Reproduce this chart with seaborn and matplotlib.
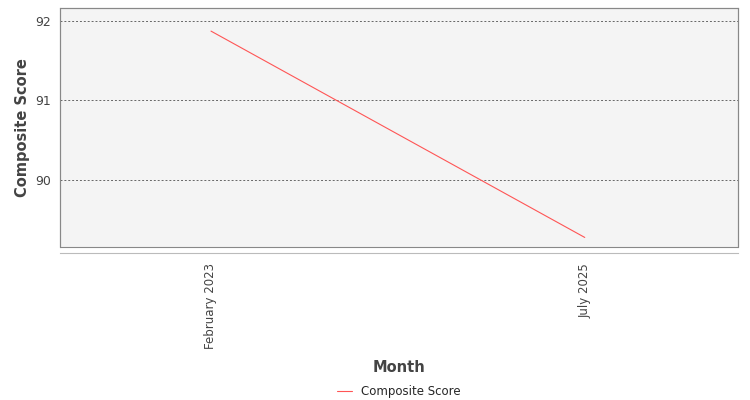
import matplotlib
matplotlib.use("Agg")
import matplotlib.pyplot as plt
import seaborn as sns
import pandas as pd

months = ["February 2023", "July 2025"]
scores = [91.87, 89.28]
series_name = "Composite Score"

sns.set_style("white")
plt.rcParams['font.family'] = ['DejaVu Sans']

fig = plt.figure(figsize=(7.5, 4), dpi=100)
ax = fig.add_axes([0.08, 0.3825, 0.904, 0.5975])
ax.set_facecolor("#f4f4f4")
ax.patch.set_edgecolor("#888888")
ax.patch.set_linewidth(0.8)
x = list(range(len(months)))
sns.lineplot(x=x, y=scores, ax=ax, color="#ff5555", linewidth=0.8, label=series_name)
ax.set_xticks(x, labels=months)
ax.tick_params(axis='x', labelrotation=90, labelsize=8.5, labelcolor="#444444", length=4, color="#999999")
ax.set_xlim(-0.404, 1.41)
ax.set_ylim(89.16, 92.16)
ax.set_yticks([90, 91, 92])
ax.tick_params(axis='y', labelsize=9, colors="#444444", length=3)
ax.grid(axis='y', color="#666666", linestyle=(0, (2, 2)), linewidth=0.7)
for s in ax.spines.values():
    s.set_color("#888888")
    s.set_linewidth(0.8)
ax.spines['bottom'].set_position(('outward', 4))
ax.spines['bottom'].set_color("#bbbbbb")
ax.set_xlabel("Month", fontsize=10.5, fontweight='bold', color="#444444", labelpad=8)
ax.set_ylabel("Composite Score", fontsize=10.5, fontweight='bold', color="#444444")
ax.legend(loc='upper center', bbox_to_anchor=(0.5, -0.535), frameon=False, fontsize=8.5,
          handlelength=1.2)
fig.savefig("out.png", dpi=100)
